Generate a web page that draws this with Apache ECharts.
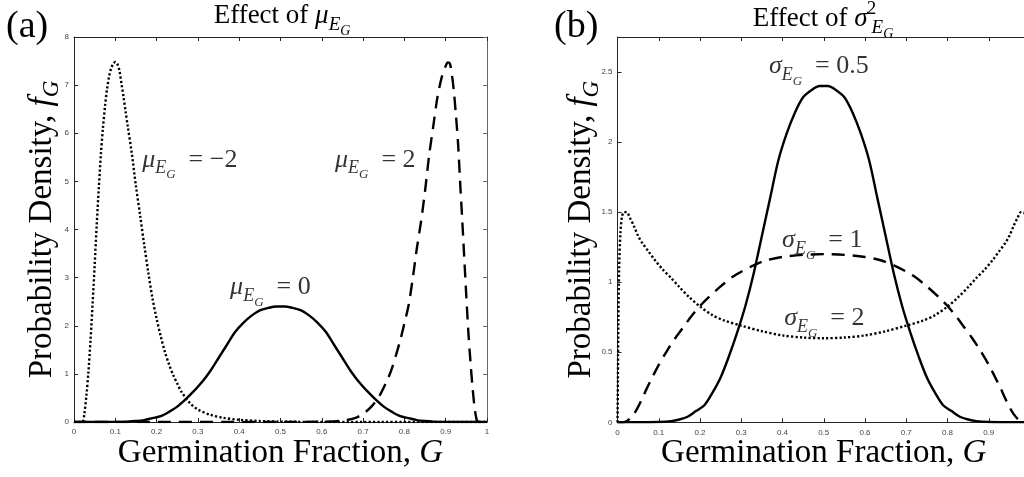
<!DOCTYPE html>
<html><head><meta charset="utf-8">
<script src="https://cdn.jsdelivr.net/npm/echarts@6.0.0/dist/echarts.min.js"></script>
<style>html,body{margin:0;padding:0;background:#fff;}#chart{width:1024px;height:477px;}</style>
</head><body><div id="chart"></div>
<script>
// ---------- data ----------
const xTickStep = 0.1;
const xRange = [0, 1];
const yRangeA = [0, 8];
const yStepA = 1;
const yRangeB = [0, 2.75];
const yStepB = 0.5;

// Panel (a): mu = 0 (solid)
const gMu0 = [0,0.05,0.1,0.13,0.15,0.17,0.19,0.21,0.23,0.25,0.27,0.29,0.31,0.33,0.35,0.37,0.39,0.41,0.43,0.45,0.47,0.49,0.5,0.51,0.53,0.55,0.57,0.59,0.61,0.63,0.65,0.67,0.69,0.71,0.73,0.75,0.77,0.79,0.81,0.83,0.85,0.87,0.9,0.95,1];
const fMu0 = [0,0,0.002,0.008,0.02,0.04,0.08,0.12,0.21,0.32,0.47,0.64,0.83,1.06,1.33,1.6,1.87,2.06,2.21,2.32,2.37,2.4,2.4,2.4,2.37,2.32,2.21,2.06,1.87,1.6,1.33,1.06,0.83,0.64,0.47,0.32,0.21,0.12,0.08,0.04,0.02,0.008,0.002,0,0];
// Panel (a): mu = -2 (dotted)
const gMuM2 = [0,0.02,0.025,0.03,0.035,0.04,0.045,0.05,0.055,0.06,0.065,0.07,0.075,0.08,0.085,0.09,0.095,0.1,0.105,0.11,0.115,0.12,0.125,0.13,0.14,0.15,0.16,0.17,0.18,0.19,0.2,0.21,0.22,0.23,0.24,0.25,0.26,0.28,0.3,0.33,0.36,0.4,0.45,0.5,0.6,0.7,1];
const fMuM2 = [0,0,0.17,0.55,1.05,1.7,2.45,3.25,4.1,4.85,5.55,6.1,6.55,6.92,7.18,7.35,7.44,7.48,7.44,7.3,7.03,6.75,6.45,6.15,5.58,4.9,4.3,3.68,3.1,2.57,2.15,1.78,1.46,1.2,0.98,0.8,0.63,0.4,0.26,0.15,0.09,0.045,0.02,0.008,0.001,0,0];
// Panel (a): mu = 2 (dashed)
const gMuP2 = [0,0.55,0.6,0.65,0.68,0.7,0.72,0.74,0.76,0.77,0.78,0.79,0.8,0.81,0.82,0.83,0.84,0.85,0.86,0.87,0.88,0.89,0.9,0.905,0.91,0.915,0.92,0.925,0.93,0.935,0.94,0.945,0.95,0.955,0.96,0.965,0.97,0.975,0.98,1];
const fMuP2 = [0,0.002,0.006,0.03,0.08,0.17,0.32,0.55,0.9,1.12,1.4,1.7,2.05,2.42,2.97,3.6,4.15,4.8,5.55,6.15,6.75,7.15,7.4,7.47,7.45,7.22,6.85,6.35,5.78,4.97,4.2,3.4,2.6,1.85,1.25,0.72,0.3,0.05,0,0];

// Panel (b): sigma = 0.5 (solid)
const gSig05 = [0,0.05,0.1,0.13,0.15,0.17,0.19,0.21,0.23,0.25,0.27,0.29,0.31,0.33,0.35,0.37,0.39,0.41,0.43,0.45,0.47,0.49,0.5,0.51,0.53,0.55,0.57,0.59,0.61,0.63,0.65,0.67,0.69,0.71,0.73,0.75,0.77,0.79,0.81,0.83,0.85,0.87,0.9,0.95,1];
const fSig05 = [0,0,0.002,0.008,0.02,0.04,0.08,0.12,0.21,0.32,0.47,0.64,0.83,1.06,1.33,1.6,1.87,2.06,2.21,2.32,2.37,2.4,2.4,2.4,2.37,2.32,2.21,2.06,1.87,1.6,1.33,1.06,0.83,0.64,0.47,0.32,0.21,0.12,0.08,0.04,0.02,0.008,0.002,0,0];
// Panel (b): sigma = 1 (dashed)
const gSig1 = [0,0.01,0.02,0.03,0.04,0.05,0.06,0.07,0.08,0.1,0.12,0.14,0.16,0.18,0.2,0.22,0.25,0.28,0.3,0.33,0.36,0.4,0.45,0.5,0.55,0.6,0.64,0.67,0.7,0.72,0.75,0.78,0.8,0.82,0.84,0.86,0.88,0.9,0.92,0.93,0.94,0.95,0.96,0.97,0.98,0.99,1];
const fSig1 = [0,0,0.005,0.025,0.06,0.11,0.17,0.235,0.295,0.41,0.51,0.6,0.68,0.76,0.83,0.89,0.97,1.04,1.075,1.12,1.155,1.18,1.195,1.2,1.195,1.18,1.155,1.12,1.075,1.04,0.97,0.89,0.83,0.76,0.68,0.6,0.51,0.41,0.295,0.235,0.17,0.11,0.06,0.025,0.005,0,0];
// Panel (b): sigma = 2 (dotted)
const gSig2 = [0,0.001,0.002,0.004,0.007,0.011,0.016,0.022,0.03,0.04,0.05,0.06,0.075,0.09,0.11,0.13,0.15,0.175,0.2,0.23,0.26,0.3,0.35,0.4,0.45,0.5,0.55,0.6,0.65,0.7,0.74,0.77,0.8,0.825,0.85,0.87,0.89,0.91,0.925,0.94,0.95,0.96,0.97,0.978,0.984,0.989,0.993,0.996,0.998,0.999,1];
const fSig2 = [0,0.3,0.7,1.1,1.35,1.47,1.5,1.5,1.46,1.4,1.33,1.28,1.22,1.16,1.09,1.03,0.965,0.89,0.826,0.765,0.725,0.69,0.65,0.62,0.605,0.6,0.605,0.62,0.65,0.69,0.725,0.765,0.826,0.89,0.965,1.03,1.09,1.16,1.22,1.28,1.33,1.4,1.46,1.5,1.5,1.47,1.35,1.1,0.7,0.3,0];

// annotation texts and their anchor points (data coordinates)
const annotTextA = ['{m|μ}{e|E}{g|G}{n|\u2002= −2}', '{m|μ}{e|E}{g|G}{n|\u2002= 2}', '{m|μ}{e|E}{g|G}{n|\u2002= 0}'];
const annotAtA = [[0.165, 5.45], [0.632, 5.45], [0.378, 2.8]];
const annotTextB = ['{m|σ}{e|E}{g|G}{n|\u2002= 0.5}', '{m|σ}{e|E}{g|G}{n|\u2002= 1}', '{m|σ}{e|E}{g|G}{n|\u2002= 2}'];
const annotAtB = [[0.367, 2.54], [0.399, 1.3], [0.404, 0.74]];

// ---------- styling ----------
const SERIF = "'Liberation Serif','Times New Roman',serif";
const SANS = "'Liberation Sans',Arial,sans-serif";
const AX = '#262626';
const INK = '#000';

function mathRich(F, supRaise) {
  const base = {fontFamily: SERIF, color: INK, fill: INK, verticalAlign: 'middle'};
  const lh = Math.round(F * 1.15);
  return {
    n: Object.assign({}, base, {fontSize: F, lineHeight: lh}),
    m: Object.assign({}, base, {fontSize: F, fontStyle: 'italic', lineHeight: lh}),
    i: Object.assign({}, base, {fontSize: F, fontStyle: 'italic', lineHeight: lh}),
    e: Object.assign({}, base, {fontSize: Math.round(F * 0.7), fontStyle: 'italic', lineHeight: Math.round(F * 0.7), padding: [Math.round(F * 0.7), 0, 0, 0]}),
    g: Object.assign({}, base, {fontSize: Math.round(F * 0.5), fontStyle: 'italic', lineHeight: Math.round(F * 0.5), padding: [Math.round(F * 1.14), 0, 0, 0]}),
    s: Object.assign({}, base, {fontSize: Math.round(F * 0.7), fontStyle: 'italic', lineHeight: Math.round(F * 0.7), padding: [Math.round(F * 0.6), 0, 0, 0]}),
    sup: Object.assign({}, base, {fontSize: Math.round(F * 0.7), lineHeight: Math.round(F * 0.7), padding: [0, 0, Math.round(F * (supRaise || 0.9)), 4], width: 0})
  };
}

function pairs(g, f) { return g.map((x, i) => [x, f[i]]); }

const SOLID = 'solid', DASHED = [13, 8], DOTTED = [2.2, 2.2];
function curve(g, f, dash, xi, yi) {
  return {
    type: 'line', xAxisIndex: xi, yAxisIndex: yi, data: pairs(g, f),
    showSymbol: false, symbol: 'none', smooth: 0.3, silent: true, z: 3,
    lineStyle: {color: '#000', width: 2.4, type: dash, cap: 'butt', join: 'round'}
  };
}
function annotations(texts, at, xi, yi, F) {
  return {
    type: 'scatter', xAxisIndex: xi, yAxisIndex: yi, symbolSize: 0, silent: true, z: 5,
    data: at.map((p, k) => ({value: p, label: {formatter: texts[k]}})),
    label: {show: true, position: 'right', distance: 0, color: INK, rich: mathRich(F)}
  };
}

function xAx(grid, top, showName) {
  return {
    gridIndex: grid, type: 'value', min: xRange[0], max: xRange[1], interval: xTickStep,
    position: top ? 'top' : 'bottom',
    axisLine: {show: true, onZero: false, lineStyle: {color: AX, width: 1}},
    axisTick: {show: true, inside: true, length: 4, lineStyle: {color: AX, width: 1}},
    axisLabel: {show: !top, fontFamily: SANS, fontSize: 8, color: '#444', margin: 6},
    splitLine: {show: false},
    name: showName ? '{n|Germination Fraction, }{i|G}' : '',
    nameLocation: 'middle', nameGap: 12, nameMoveOverlap: false,
    nameTextStyle: {color: INK, rich: mathRich(33)}
  };
}
function yAx(grid, right, range, step, showName, hideMax, gap) {
  return {
    gridIndex: grid, type: 'value', min: range[0], max: range[1], interval: step,
    position: right ? 'right' : 'left',
    axisLine: {show: true, onZero: false, lineStyle: {color: right ? '#666' : AX, width: 1}},
    axisTick: {show: true, inside: true, length: 4, lineStyle: {color: right ? '#666' : AX, width: 1}},
    axisLabel: {show: !right, fontFamily: SANS, fontSize: 8, color: '#444', margin: 5, showMaxLabel: !hideMax},
    splitLine: {show: false},
    name: showName ? '{n|Probability Density, }{i|f}{s|G}' : '',
    nameLocation: 'middle', nameRotate: 90, nameGap: gap || 13, nameMoveOverlap: false,
    nameTextStyle: {color: INK, rich: mathRich(33)}
  };
}

const option = {
  animation: false,
  backgroundColor: '#fff',
  grid: [
    {left: 74, top: 37, width: 413, height: 385, containLabel: false, outerBoundsMode: 'none'},
    {left: 617.5, top: 37, width: 412.5, height: 385.3, containLabel: false, outerBoundsMode: 'none'}
  ],
  xAxis: [xAx(0, false, true), xAx(0, true, false), xAx(1, false, true), xAx(1, true, false)],
  yAxis: [
    yAx(0, false, yRangeA, yStepA, true, false, 13), yAx(0, true, yRangeA, yStepA, false, false),
    yAx(1, false, yRangeB, yStepB, true, true, 17), yAx(1, true, yRangeB, yStepB, false, true)
  ],
  series: [
    curve(gMuM2, fMuM2, DOTTED, 0, 0),
    curve(gMuP2, fMuP2, DASHED, 0, 0),
    curve(gMu0, fMu0, SOLID, 0, 0),
    curve(gSig2, fSig2, DOTTED, 2, 2),
    curve(gSig1, fSig1, DASHED, 2, 2),
    curve(gSig05, fSig05, SOLID, 2, 2),
    annotations(annotTextA, annotAtA, 0, 0, 26),
    annotations(annotTextB, annotAtB, 2, 2, 26)
  ],
  graphic: [
    {type: 'text', x: 6, y: 8, silent: true, style: {text: '(a)', font: "38px " + SERIF, fill: INK, align: 'left', verticalAlign: 'top'}},
    {type: 'text', x: 554, y: 8, silent: true, style: {text: '(b)', font: "38px " + SERIF, fill: INK, align: 'left', verticalAlign: 'top'}},
    {type: 'text', x: 282, y: 0, silent: true, style: {text: '{n|Effect of }{m|μ}{e|E}{g|G}', rich: mathRich(27), align: 'center', verticalAlign: 'top'}},
    {type: 'text', x: 823, y: 3, silent: true, style: {text: '{n|Effect of }{m|σ}{sup|2}{e|E}{g|G}', rich: mathRich(27, 0.7), align: 'center', verticalAlign: 'top'}}
  ]
};

const chart = echarts.init(document.getElementById('chart'), null, {renderer: 'canvas'});
chart.setOption(option);
</script></body></html>
